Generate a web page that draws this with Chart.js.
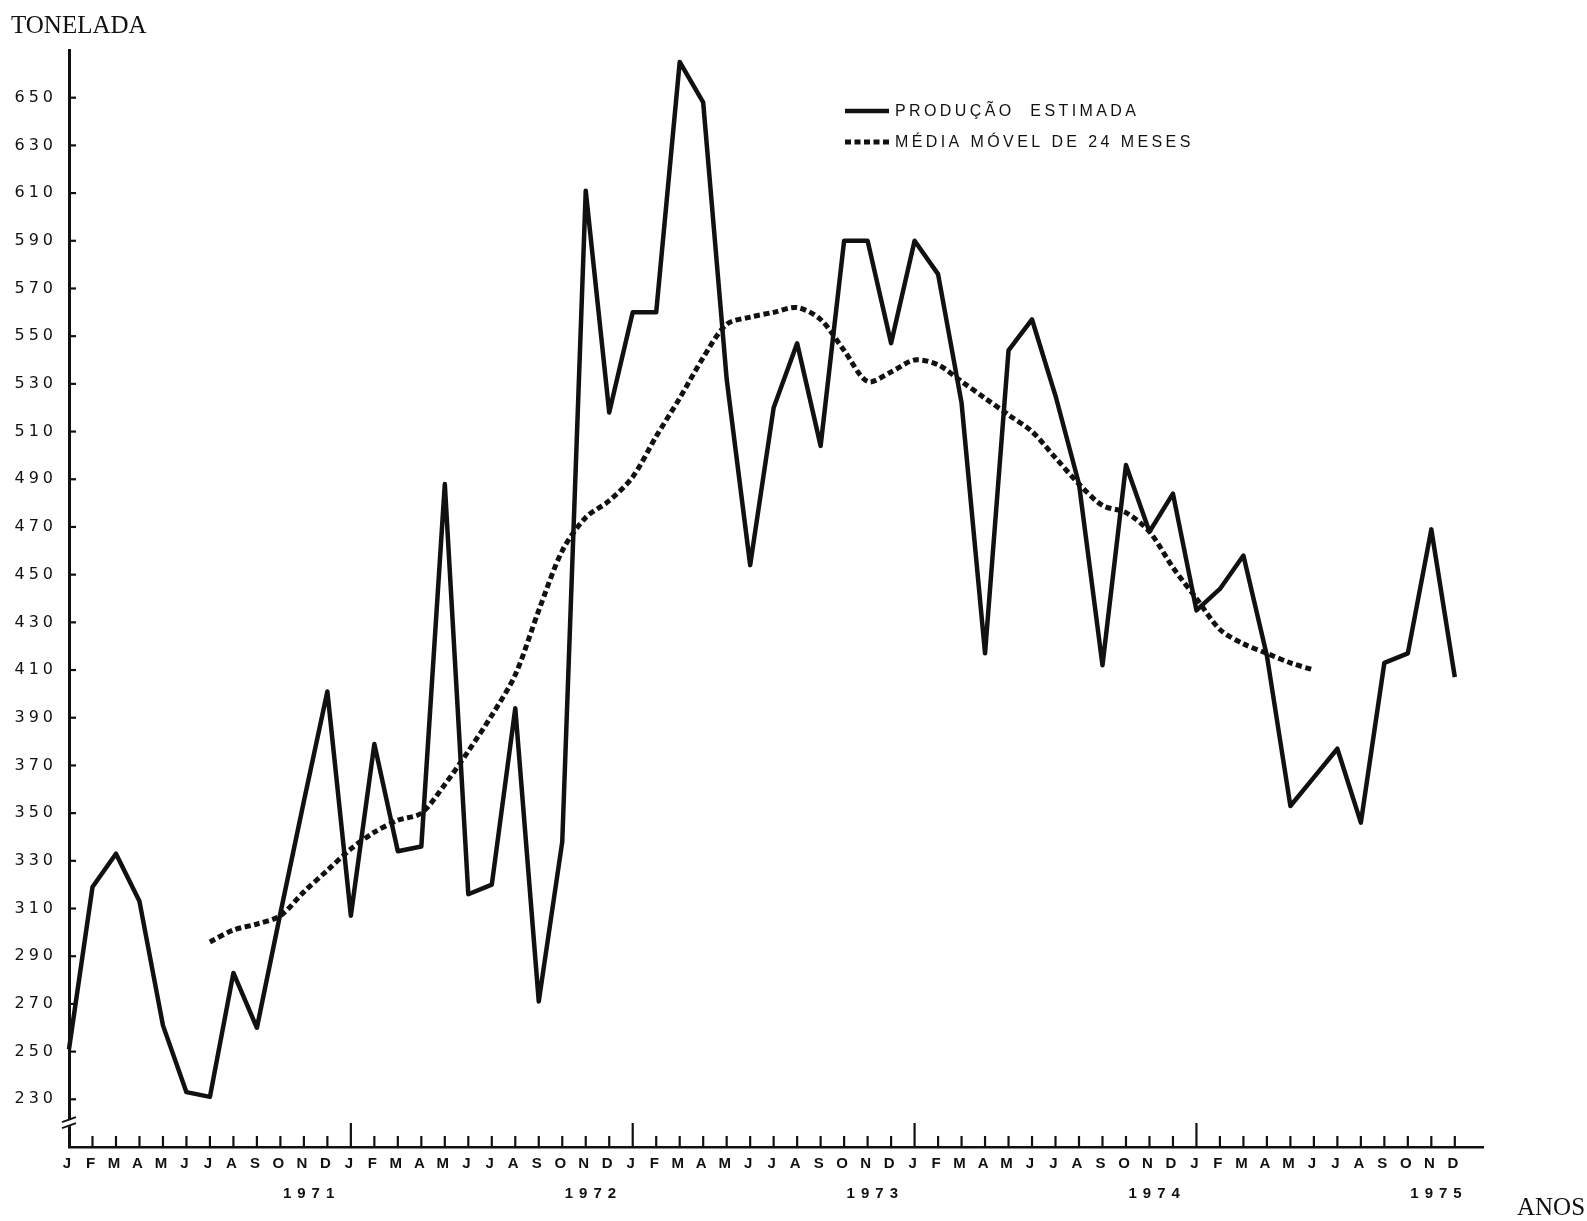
<!DOCTYPE html>
<html lang="pt">
<head>
<meta charset="utf-8">
<title>Produção estimada</title>
<script src="https://cdn.jsdelivr.net/npm/chart.js@4.4.1/dist/chart.umd.min.js"></script>
<style>
    html, body { margin: 0; padding: 0; background: #ffffff; }
    #wrap { position: relative; width: 1587px; height: 1221px; }
</style>
</head>
<body>
<div id="wrap"><canvas id="grafico"></canvas></div>
<script>
// month letters on the time axis (1971 - 1975, monthly)
const months = ['J', 'F', 'M', 'A', 'M', 'J', 'J', 'A', 'S', 'O', 'N', 'D'];
const years = ['1971', '1972', '1973', '1974', '1975'];
const yTicks = [230, 250, 270, 290, 310, 330, 350, 370, 390, 410, 430, 450, 470, 490, 510, 530, 550, 570, 590, 610, 630, 650];

const seriesNames = ['PRODUÇÃO  ESTIMADA', 'MÉDIA MÓVEL DE 24 MESES'];

// produção estimada, Jan 1971 .. Dez 1975
const producao = [
    251, 319, 333, 313, 261, 233, 231, 283, 260, 308, 355, 401,
    307, 379, 334, 336, 488, 316, 320, 394, 271, 338, 611, 518,
    560, 560, 665, 648, 532, 454, 520, 547, 504, 590, 590, 547,
    590, 576, 522, 417, 544, 557, 525, 488, 412, 496, 468, 484,
    435, 444, 458, 416, 353, 365, 377, 346, 413, 417, 469, 407
];

// média móvel de 24 meses (Jul 1971 .. Jun 1975)
const mediaMovel = [
    null, null, null, null, null, null,
    296, 301, 303.5, 307, 317, 326,
    335, 342, 347, 350, 362, 376, 391, 408, 435, 460, 474, 481,
    491, 508, 524, 541, 555, 558, 560, 562, 557, 544, 531, 535,
    540, 538, 531, 524, 517, 510, 499, 488, 479, 476, 468, 453,
    440, 427, 421, 417, 413, 410,
    null, null, null, null, null, null
];

const INK = '#111111';

function toPoints(values) {
    const pts = [];
    values.forEach((v, i) => {
        if (v !== null) pts.push({ x: i, y: v });
    });
    return pts;
}

function line(ctx, x1, y1, x2, y2) {
    ctx.beginPath();
    ctx.moveTo(x1, y1);
    ctx.lineTo(x2, y2);
    ctx.stroke();
}

// axis decorations, legend and axis titles
const marksPlugin = {
    id: 'marks',
    beforeDraw(chart) {
        chart.ctx.letterSpacing = '4px';
    },
    afterDraw(chart) {
        const ctx = chart.ctx;
        const xs = chart.scales.x;
        const ys = chart.scales.y;
        const area = chart.chartArea;
        ctx.save();
        ctx.letterSpacing = '0px';
        ctx.strokeStyle = INK;
        ctx.fillStyle = INK;
        ctx.lineWidth = 2.2;

        // y ticks point inward
        yTicks.forEach(v => {
            const y = ys.getPixelForValue(v);
            line(ctx, area.left, y, area.left + 7, y);
        });

        // month ticks, taller at each january
        for (let i = 1; i < producao.length; i++) {
            const x = xs.getPixelForValue(i);
            const h = i % 12 === 0 ? 24 : 11;
            line(ctx, x, area.bottom, x, area.bottom - h);
        }

        // axis break
        const yb = ys.getPixelForValue(220);
        ctx.fillStyle = '#ffffff';
        ctx.fillRect(area.left - 3, yb - 3, 6, 6);
        ctx.lineWidth = 2;
        line(ctx, area.left - 7, yb - 1, area.left + 7, yb - 6);
        line(ctx, area.left - 7, yb + 5, area.left + 7, yb);

        // year labels under nov/dec of each year
        ctx.fillStyle = INK;
        ctx.font = 'bold 15px "Liberation Sans"';
        ctx.letterSpacing = '6px';
        ctx.textAlign = 'center';
        ctx.textBaseline = 'middle';
        years.forEach((label, k) => {
            const x = xs.getPixelForValue(12 * k + 10.2);
            ctx.fillText(label, x + 3, 1194);
        });

        // legend
        ctx.font = '16px "Liberation Sans"';
        ctx.letterSpacing = '3.4px';
        ctx.textAlign = 'left';
        chart.data.datasets.forEach((ds, k) => {
            const y = 111 + k * 31;
            ctx.save();
            ctx.lineWidth = ds.borderWidth;
            ctx.setLineDash(ds.borderDash || []);
            line(ctx, 845, y, 889, y);
            ctx.restore();
            ctx.fillText(ds.label, 895, y + 1);
        });

        // axis titles
        ctx.letterSpacing = '0px';
        ctx.font = '25px "Liberation Serif"';
        ctx.fillText('TONELADA', 11, 26);
        ctx.fillText('ANOS', 1517, 1208);
        ctx.restore();
    }
};

document.addEventListener('DOMContentLoaded', () => {
    const ctx = document.getElementById('grafico').getContext('2d');
    new Chart(ctx, {
        type: 'line',
        data: {
            datasets: [{
                label: seriesNames[0],
                data: toPoints(producao),
                borderColor: INK,
                borderWidth: 4.5,
                borderJoinStyle: 'round',
                pointRadius: 0,
                tension: 0,
                clip: false
            }, {
                label: seriesNames[1],
                data: toPoints(mediaMovel),
                borderColor: INK,
                borderWidth: 5,
                borderDash: [6, 3.5],
                borderCapStyle: 'butt',
                pointRadius: 0,
                tension: 0.3,
                clip: false
            }]
        },
        options: {
            responsive: true,
            maintainAspectRatio: false,
            animation: false,
            layout: { padding: { top: 50, right: 104, bottom: 0, left: 0 } },
            plugins: {
                legend: { display: false },
                tooltip: { enabled: false }
            },
            scales: {
                x: {
                    type: 'linear',
                    min: 0,
                    max: 60.2,
                    afterBuildTicks: scale => {
                        scale.ticks = producao.map((v, i) => ({ value: i }));
                    },
                    afterFit: scale => { scale.height = 74; },
                    grid: { display: false, drawTicks: false },
                    border: { display: true, color: INK, width: 2.5 },
                    ticks: {
                        autoSkip: false,
                        maxRotation: 0,
                        padding: 8,
                        color: INK,
                        font: { family: 'Liberation Sans', size: 15, weight: 'bold' },
                        callback: value => months[value % 12]
                    }
                },
                y: {
                    min: 210,
                    max: 670,
                    afterBuildTicks: scale => {
                        scale.ticks = yTicks.map(v => ({ value: v }));
                    },
                    afterFit: scale => { scale.width = 69; },
                    grid: { display: false, drawTicks: false },
                    border: { display: true, color: INK, width: 3 },
                    ticks: {
                        padding: 12,
                        color: INK,
                        font: { family: 'DejaVu Sans', size: 16 }
                    }
                }
            }
        },
        plugins: [marksPlugin]
    });
});
</script>
</body>
</html>
